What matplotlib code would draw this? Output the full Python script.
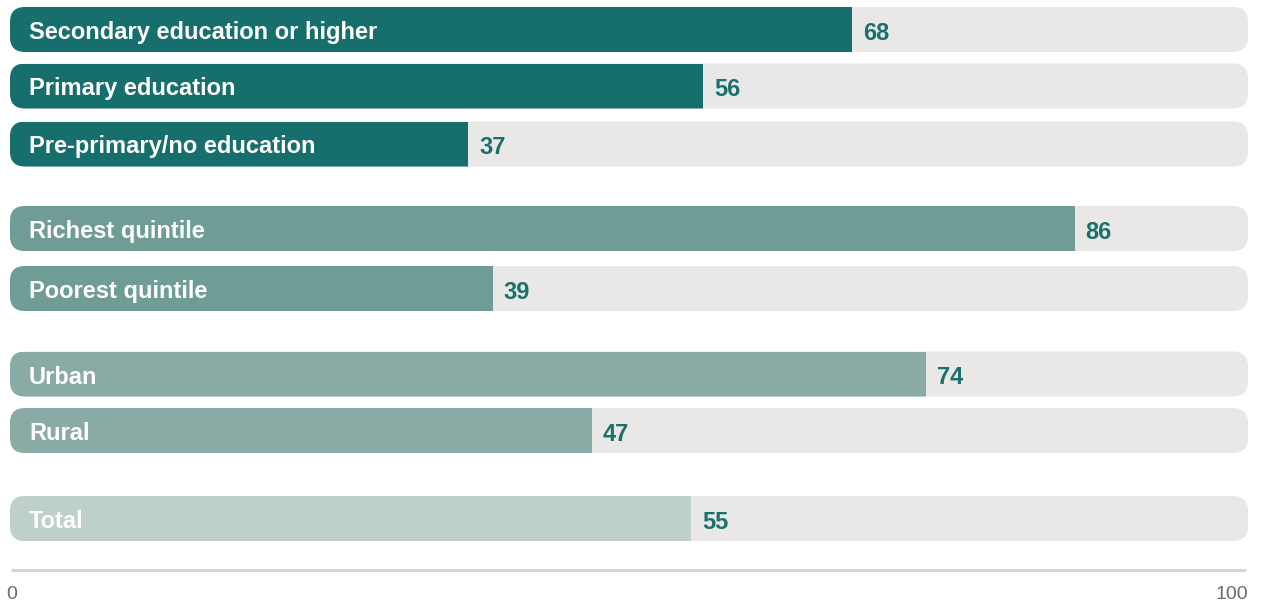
import numpy as np
import matplotlib.pyplot as plt
from matplotlib.patches import FancyBboxPatch

labels = ["Secondary education or higher", "Primary education", "Pre-primary/no education",
          "Richest quintile", "Poorest quintile",
          "Urban", "Rural",
          "Total"]
values = [68, 56, 37, 86, 39, 74, 47, 55]
colors = ["#176f6d", "#176f6d", "#176f6d", "#6f9c95", "#6f9c95", "#8aaba5", "#8aaba5", "#bfcfcb"]

plt.rcParams['font.family'] = ['Liberation Sans', 'DejaVu Sans']

W, H = 1263, 603
fig = plt.figure(figsize=(W / 100, H / 100), dpi=100)
ax = fig.add_axes([0, 0, 1, 1])
ax.axis('off')

# x: 0 -> px 10, 100 -> px 1248 ; y measured in pixel rows from the top
left_px, right_px = 10, 1248
ppu = (right_px - left_px) / 100
ax.set_xlim(-left_px / ppu, (W - left_px) / ppu)
ax.set_ylim(H, 0)

# row centres (layout), grouped with wider gaps between groups
ys = [29.5, 86, 144, 228.5, 288.5, 374, 430.5, 518.5]
bar_h = 45
radius = 15

for y, lab, v, c in zip(ys, labels, values, colors):
    bg = FancyBboxPatch((0, y - bar_h / 2), 100, bar_h,
                        boxstyle=f"round,pad=0,rounding_size={radius / ppu}",
                        mutation_aspect=ppu, fc="#e9e8e6", ec="none")
    ax.add_patch(bg)
    bar = ax.barh(y, v, height=bar_h, left=0, color=c, edgecolor="none")[0]
    bar.set_clip_path(bg)
    ax.text(19 / ppu, y + 9.5, lab, color="white", fontsize=17, fontweight="bold",
            va="baseline", ha="left")
    ax.text(v + 11 / ppu, y + 10.5, str(v), color="#1a706d", fontsize=17,
            fontweight="bold", va="baseline", ha="left")

ax.plot([0.08, 99.8], [570, 570], color="#d5d5d5", lw=2.2, solid_capstyle="butt")
ax.text(-4 / ppu, 599, "0", color="#6b6b6b", fontsize=14, va="baseline", ha="left")
ax.text(100, 599, "100", color="#6b6b6b", fontsize=14, va="baseline", ha="right")

fig.savefig("out.png", dpi=100)
